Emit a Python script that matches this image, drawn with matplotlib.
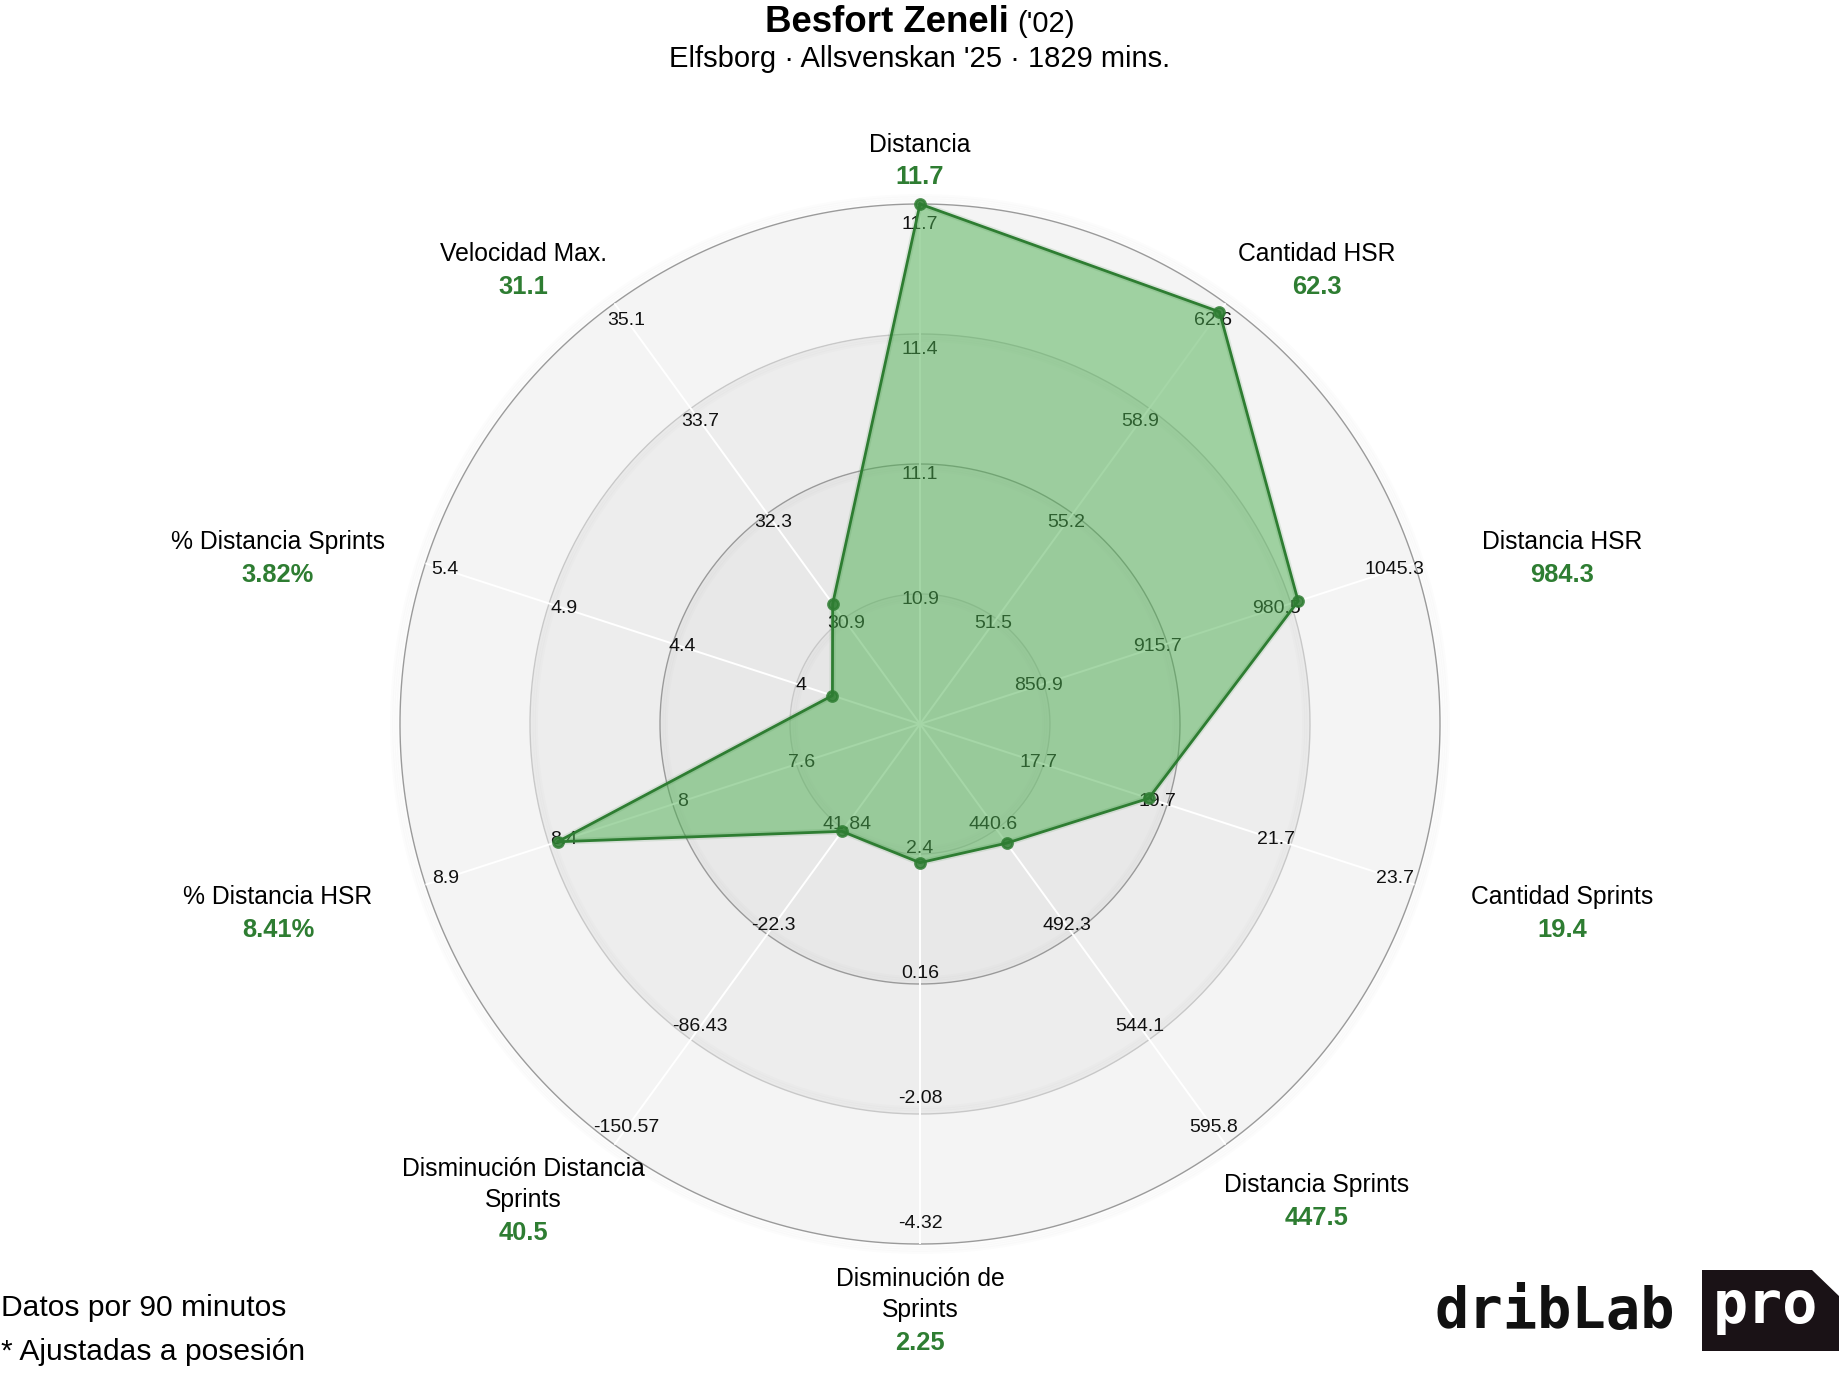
import numpy as np
import matplotlib.pyplot as plt
from matplotlib.patches import Polygon

plt.rcParams['font.family'] = ['Liberation Sans', 'DejaVu Sans']

W, H, DPI = 1840, 1380, 200

# data, clockwise from the top
metrics = ['Distancia', 'Cantidad HSR', 'Distancia HSR', 'Cantidad Sprints',
           'Distancia Sprints', 'Disminución de\nSprints', 'Disminución Distancia\nSprints',
           '% Distancia HSR', '% Distancia Sprints', 'Velocidad Max.']
values = [11.7, 62.3, 984.3, 19.4, 447.5, 2.25, 40.5, 8.41, 3.82, 31.1]
value_labels = ['11.7', '62.3', '984.3', '19.4', '447.5', '2.25', '40.5', '8.41%', '3.82%', '31.1']
# value at the centre and at the outer ring of each axis
scale_min = [10.62, 47.8, 786.1, 15.7, 388.9, 4.64, 105.98, 7.12, 3.48, 29.5]
scale_max = [11.7, 62.6, 1045.3, 23.7, 595.8, -4.32, -150.57, 8.88, 5.4, 35.1]
tick_labels = [
    ['10.9', '11.1', '11.4', '11.7'],
    ['51.5', '55.2', '58.9', '62.6'],
    ['850.9', '915.7', '980.5', '1045.3'],
    ['17.7', '19.7', '21.7', '23.7'],
    ['440.6', '492.3', '544.1', '595.8'],
    ['2.4', '0.16', '-2.08', '-4.32'],
    ['41.84', '-22.3', '-86.43', '-150.57'],
    ['7.6', '8', '8.4', '8.9'],
    ['4', '4.4', '4.9', '5.4'],
    ['30.9', '32.3', '33.7', '35.1'],
]
rings = [0.25, 0.5, 0.75, 1.0]

player = 'Besfort Zeneli'
born = "('02)"
subtitle = "Elfsborg · Allsvenskan '25 · 1829 mins."
notes = ['Datos por 90 minutos', '* Ajustadas a posesión']

green = '#2e7d32'
fill_green = '#4caf50'

n = len(metrics)
angles = np.arange(n) * 2 * np.pi / n
fracs = [(v - lo) / (hi - lo) for v, lo, hi in zip(values, scale_min, scale_max)]

fig = plt.figure(figsize=(W / DPI, H / DPI), dpi=DPI)

# radar, centre / radius in pixels
cx, cy, R = 920, 724, 520
ax = fig.add_axes([(cx - R) / W, 1 - (cy + R) / H, 2 * R / W, 2 * R / H], projection='polar')
ax.set_theta_offset(np.pi / 2)
ax.set_theta_direction(-1)
ax.set_ylim(0, 1)
ax.set_xticks([])
ax.set_yticks([])
ax.grid(False)
ax.spines['polar'].set_visible(False)
ax.set_facecolor('none')

th = np.linspace(0, 2 * np.pi, 400)
band_colors = ['#e6e6e6', '#e8e8e8', '#ededed', '#f4f4f4']
ring_colors = ['#c8c8c8', '#9a9a9a', '#c8c8c8', '#9a9a9a']
prev = 0
for r, bc in zip(rings, band_colors):
    ax.fill_between(th, prev, r, color=bc, lw=0, zorder=0)
    prev = r
# soft drop shadow around the outer ring and inside the inner rings
for k in range(1, 5):
    ax.plot(th, np.full_like(th, 1 + k * 0.004), color='black', alpha=0.012, lw=1.2, zorder=0.5,
            clip_on=False)
for r in rings[:-1]:
    for k in range(1, 4):
        ax.plot(th, np.full_like(th, r - k * 0.004), color='black', alpha=0.01, lw=1.2, zorder=1)
for r, rc in zip(rings, ring_colors):
    ax.plot(th, np.full_like(th, r), color=rc, lw=0.5, zorder=1.5, clip_on=False)

for a in angles:
    ax.plot([a, a], [0, 1], color='white', lw=0.7, zorder=2)

for a, labs in zip(angles, tick_labels):
    for r, t in zip(rings, labs):
        ax.text(a, r * 0.96, t, fontsize=7, ha='center', va='center', color='#111111', zorder=3)

a_closed = np.append(angles, angles[0])
f_closed = np.append(fracs, fracs[0])
ax.fill(a_closed, f_closed, color=fill_green, alpha=0.5, lw=0, zorder=4)
ax.plot(a_closed, f_closed, color=green, lw=2.2, alpha=0.12, zorder=4.5, clip_on=False)
ax.plot(a_closed, f_closed, color=green, lw=1.0, zorder=5, clip_on=False)
ax.plot(angles, fracs, 'o', color=green, ms=3.6, alpha=0.85, zorder=6, clip_on=False)

# overlay in pixel coordinates for the text
tx = fig.add_axes([0, 0, 1, 1])
tx.set_xlim(0, W)
tx.set_ylim(H, 0)
tx.axis('off')
tx.patch.set_alpha(0)

line_gap, value_gap = 30, 33
for i, a in enumerate(angles):
    deg = np.pi / 2 - a
    x = cx + 675 * np.cos(deg)
    yc = cy - (575 * np.sin(deg) - 12)
    nl = metrics[i].count('\n') + 1
    total = (nl - 1) * line_gap + value_gap
    first = yc - total / 2
    tx.text(x, first + (nl - 1) * line_gap / 2, metrics[i], fontsize=8.9, ha='center', va='center',
            linespacing=1.36, color='black')
    tx.text(x, first + total, value_labels[i], fontsize=9.2, ha='center', va='center',
            fontweight='bold', color=green)

# title: bold name + year, centred as one line
t1 = tx.text(0, 31.7, player, fontsize=13.2, fontweight='bold', ha='left', va='baseline')
t2 = tx.text(0, 31.7, born, fontsize=10.5, ha='left', va='baseline')
renderer = fig.canvas.get_renderer()
w1 = t1.get_window_extent(renderer).width
w2 = t2.get_window_extent(renderer).width
gap = 8
x0 = cx - (w1 + gap + w2) / 2
t1.set_x(x0)
t2.set_x(x0 + w1 + gap)
tx.text(cx, 66.7, subtitle, fontsize=10.5, ha='center', va='baseline')

tx.text(1, 1316, notes[0], fontsize=10.8, ha='left', va='baseline')
tx.text(1, 1360, notes[1], fontsize=10.8, ha='left', va='baseline')

# logo
tx.text(1435, 1328, 'dribLab', fontsize=20.5, fontweight='bold', family='DejaVu Sans Mono',
        ha='left', va='baseline', color='#111111')
tx.add_patch(Polygon([[1702, 1270], [1812, 1270], [1840, 1297], [1840, 1351], [1702, 1351]],
                     closed=True, color='#1a1216', lw=0))
tx.text(1713, 1323, 'pro', fontsize=21, fontweight='bold', family='DejaVu Sans Mono',
        ha='left', va='baseline', color='white')

fig.savefig('out.png', dpi=DPI, facecolor='white')
